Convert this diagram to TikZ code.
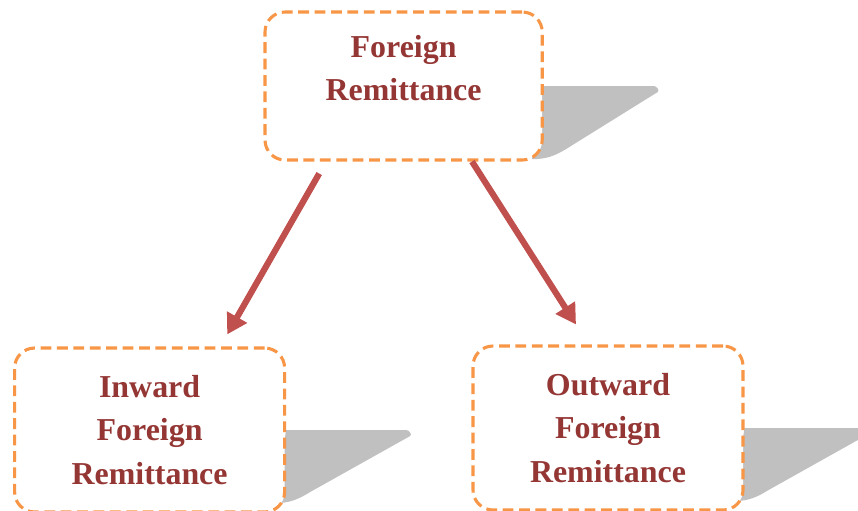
\documentclass[tikz,border=0pt]{standalone}
\usepackage{fontspec}
\setmainfont{Liberation Serif}
\usetikzlibrary{arrows.meta, backgrounds}
\definecolor{boxorange}{HTML}{F79646}
\definecolor{textred}{HTML}{943634}
\definecolor{arrowred}{HTML}{C0504D}
\definecolor{foldgray}{HTML}{C0C0C0}
\tikzstyle{remitbox} = [rectangle, rounded corners=0.5cm, minimum width=6.75cm, minimum height=4.1cm, align=center, draw=boxorange, line width=2.2pt, dash pattern=on 0.27cm off 0.14cm, fill=white, text=textred, font=\fontsize{22.7}{30.8}\selectfont\bfseries]
\tikzstyle{arrow} = [line width=4.4pt, draw=arrowred, -{Triangle[length=0.5cm,width=0.55cm]}]
\tikzstyle{fold} = [fill=foldgray]

\begin{document}
\begin{tikzpicture}[node distance=8.55cm]
\useasboundingbox (0,0) rectangle (21.45,-12.75);
\node (remit) [remitbox, minimum width=6.93cm, minimum height=3.7cm] at (10.09,-2.15) {Foreign\\Remittance\rule[-0.9cm]{0pt}{0pt}};
\node (inward) [remitbox, below of=remit, xshift=-6.35cm, yshift=-0.05cm] {Inward\\Foreign\\Remittance};
\node (outward) [remitbox, below of=remit, xshift=5.11cm] {Outward\\Foreign\\Remittance};

\draw[arrow] ([xshift=-2.11cm,yshift=-0.3cm]remit.south) -- ([xshift=1.94cm,yshift=0.3cm]inward.north);
\draw[arrow] ([xshift=1.71cm]remit.south) -- ([xshift=-0.8cm,yshift=0.5cm]outward.north);

\begin{scope}[on background layer]
\foreach \n/\len in {remit/2.75, inward/3.0, outward/3.0}
  \fill[fold, shift={(\n.east)}] (0,0) -- (\len,0) to[out=0,in=40] (\len+0.1,-0.15) -- (0.6,-1.55) to[out=212,in=0] (-0.3,-1.83) -- cycle;
\end{scope}
\end{tikzpicture}
\end{document}
